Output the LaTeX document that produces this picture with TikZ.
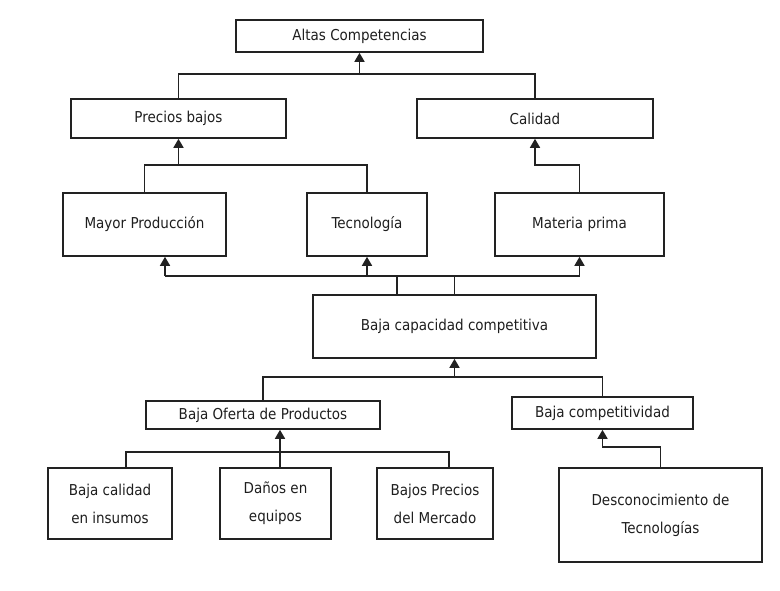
\documentclass[tikz,border=0pt]{standalone}
\usepackage{fontspec}
\setmainfont{DejaVu Sans Condensed}
\usetikzlibrary{arrows.meta}
\definecolor{ink}{HTML}{222222}
\definecolor{txt}{HTML}{1E1E1E}
\tikzset{
  box/.style={draw=ink, line width=1.6pt, rectangle, inner sep=2pt,
    align=center, text=txt, font=\fontsize{15}{28}\selectfont},
  link/.style={draw=ink, line width=1.6pt},
  arr/.style={link, -{Triangle[width=10pt,length=9pt]}}
}
\begin{document}
\begin{tikzpicture}[x=1pt,y=-1pt]
\useasboundingbox (0,0) rectangle (780,590);

% top level
\node[box, minimum width=247pt, minimum height=32pt] (alt) at (359.5,36) {Altas Competencias};
\node[box, minimum width=215pt, minimum height=39pt] (pre) at (178.5,118.5) {Precios bajos};
\node[box, minimum width=236pt, minimum height=39pt] (cal) at (535,118.5) {Calidad};

% middle row
\node[box, minimum width=163pt, minimum height=63pt] (may) at (144.5,224.5) {Mayor Producción};
\node[box, minimum width=120pt, minimum height=63pt] (tec) at (367,224.5) {Tecnología};
\node[box, minimum width=169pt, minimum height=63pt] (mat) at (579.5,224.5) {Materia prima};

% central problem
\node[box, minimum width=283pt, minimum height=63pt] (bcc) at (454.5,326.5) {Baja capacidad competitiva};

% causes
\node[box, minimum width=234pt, minimum height=28pt] (bop) at (263,415) {Baja Oferta de Productos};
\node[box, minimum width=181pt, minimum height=32pt] (bco) at (602.5,413) {Baja competitividad};

\node[box, minimum width=124pt, minimum height=71pt] (bci) at (110,503.5) {Baja calidad\\en insumos};
\node[box, minimum width=111pt, minimum height=71pt] (dan) at (275.5,503.5) {Daños en\\equipos};
\node[box, minimum width=116pt, minimum height=71pt] (bpm) at (435,503.5) {Bajos Precios\\del Mercado};
\node[box, minimum width=203pt, minimum height=94pt] (des) at (660.5,515) {Desconocimiento de\\Tecnologías};

% junction points
\coordinate (j1) at (359.5,75);
\coordinate (s1) at (397,276);
\coordinate (s2) at (454.5,276);
\coordinate (m1) at (165,276);
\coordinate (j3) at (454.5,378);
\coordinate (k1) at (126,452);
\coordinate (k2) at (449,452);
\coordinate (k3) at (280,452);

% effects tree
\draw[link] (pre.north) -- ++(0,-24) -| (cal.north);
\draw[arr] (j1) -- (alt.south);
\draw[link] (may.north) -- ++(0,-27) -| (tec.north);
\draw[arr] (pre.south |- may.north) ++(0,-27) -- (pre.south);
\draw[arr] (mat.north) -- ++(0,-27) -| (cal.south);

% from central problem up to the middle row
\draw[link] (bcc.north -| s1) -- (s1);
\draw[link] (bcc.north -| s2) -- (s2);
\draw[link] (m1) -- (mat.south |- m1);
\draw[arr] (m1) -- (m1 |- may.south);
\draw[arr] (tec.south |- m1) -- (tec.south);
\draw[arr] (mat.south |- m1) -- (mat.south);

% causes tree
\draw[link] (bop.north) -- ++(0,-23) -| (bco.north);
\draw[arr] (j3) -- (bcc.south);
\draw[link] (k1 |- bci.north) -- (k1) -- (k2) -- (k2 |- bpm.north);
\draw[arr] (k3 |- dan.north) -- (k3 |- bop.south);
\draw[arr] (des.north) -- ++(0,-20) -| (bco.south);
\end{tikzpicture}
\end{document}
